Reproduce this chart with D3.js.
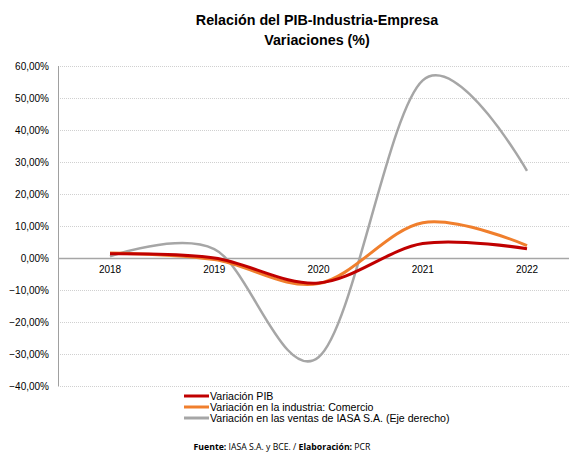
<!DOCTYPE html>
<html>
<head>
<meta charset="utf-8">
<script src="https://cdn.jsdelivr.net/npm/d3@7"></script>
<style>
  body { margin: 0; background: #fff; }
  svg { display: block; font-family: "Liberation Sans", Arial, sans-serif; }
</style>
</head>
<body>
<div id="chart"></div>
<script>
// data
var years = ["2018", "2019", "2020", "2021", "2022"];
var pib = [1.3, 0.0, -7.8, 4.5, 2.9];
var industria = [1.6, -0.5, -8.0, 11.0, 3.9];
var ventas = [0.5, 2.8, -31.0, 55.5, 27.2];
var yTicks = [60, 50, 40, 30, 20, 10, 0, -10, -20, -30, -40];
var seriesNames = ["Variación PIB", "Variación en la industria: Comercio", "Variación en las ventas de IASA S.A. (Eje derecho)"];
var seriesColors = ["#C00000", "#F07F2D", "#A6A6A6"];

var width = 569, height = 452;
var margin = {top: 66, left: 58, bottom: 67};

var svg = d3.select("#chart").append("svg")
    .attr("width", width)
    .attr("height", height);

// category axis: 2018 at 110, 2022 at 527
var x = d3.scalePoint().domain(years).range([110, 527]);
var y = d3.scaleLinear().domain([-40, 60]).range([height - margin.bottom + 1, margin.top]);
var plotRight = 579;

// gridlines
svg.append("g").selectAll("line")
  .data(yTicks.filter(function(d) { return d !== 0; }))
  .enter().append("line")
    .attr("x1", margin.left)
    .attr("x2", plotRight)
    .attr("y1", function(d) { return Math.round(y(d)) + 0.5; })
    .attr("y2", function(d) { return Math.round(y(d)) + 0.5; })
    .style("stroke", "#d0d0d0")
    .style("stroke-width", 1)
    .style("stroke-dasharray", "1,1");

// y axis line
svg.append("line")
    .attr("x1", margin.left + 0.5).attr("x2", margin.left + 0.5)
    .attr("y1", y(60)).attr("y2", y(-40))
    .style("stroke", "#a0a0a0");

// zero line
svg.append("line")
    .attr("x1", margin.left).attr("x2", plotRight)
    .attr("y1", Math.round(y(0)) + 0.5).attr("y2", Math.round(y(0)) + 0.5)
    .style("stroke", "#a6a6a6")
    .style("stroke-width", 1.5);

// y tick labels
var fmt = function(d) { return d3.format(".2f")(d).replace(".", ",") + "%"; };
svg.append("g").selectAll("text")
  .data(yTicks)
  .enter().append("text")
    .attr("x", 49)
    .attr("y", function(d) { return y(d) + 3.5; })
    .attr("text-anchor", "end")
    .style("font-size", "10px")
    .style("fill", "#000")
    .text(fmt);

// x labels
svg.append("g").selectAll("text")
  .data(years)
  .enter().append("text")
    .attr("x", function(d) { return x(d); })
    .attr("y", y(0) + 15)
    .attr("text-anchor", "middle")
    .style("font-size", "10px")
    .style("fill", "#000")
    .text(function(d) { return d; });

// smoothed lines (excel-like)
var line = d3.line()
    .x(function(d, i) { return x(years[i]); })
    .y(function(d) { return y(d); })
    .curve(d3.curveCardinal.tension(0));

var allSeries = [ventas, industria, pib];
var allColors = [seriesColors[2], seriesColors[1], seriesColors[0]];
var widths = [2.5, 3, 3];
allSeries.forEach(function(s, i) {
  svg.append("path")
      .datum(s)
      .attr("d", line)
      .style("fill", "none")
      .style("stroke", allColors[i])
      .style("stroke-width", widths[i]);
});

// title
svg.append("text")
    .attr("x", 317).attr("y", 25)
    .attr("text-anchor", "middle")
    .style("font-size", "14.3px")
    .style("font-weight", "bold")
    .text("Relación del PIB-Industria-Empresa");
svg.append("text")
    .attr("x", 317).attr("y", 45)
    .attr("text-anchor", "middle")
    .style("font-size", "14.3px")
    .style("font-weight", "bold")
    .text("Variaciones (%)");

// legend
var legend = svg.append("g").selectAll("g")
  .data(seriesNames)
  .enter().append("g")
    .attr("transform", function(d, i) { return "translate(184," + (396 + i * 11) + ")"; });
legend.append("line")
    .attr("x1", 0).attr("x2", 25)
    .attr("y1", 0).attr("y2", 0)
    .style("stroke", function(d, i) { return seriesColors[i]; })
    .style("stroke-width", 3);
legend.append("text")
    .attr("x", 26).attr("y", 3.8)
    .style("font-size", "10.6px")
    .text(function(d) { return d; });

// footer
var foot = svg.append("text")
    .attr("x", 282).attr("y", 450)
    .attr("text-anchor", "middle")
    .style("font-family", "'Open Sans', sans-serif")
    .style("font-size", "8.7px");
foot.append("tspan").style("font-weight", "bold").text("Fuente:");
foot.append("tspan").text(" IASA S.A. y  BCE. / ");
foot.append("tspan").style("font-weight", "bold").text("Elaboración:");
foot.append("tspan").text(" PCR");
</script>
</body>
</html>
